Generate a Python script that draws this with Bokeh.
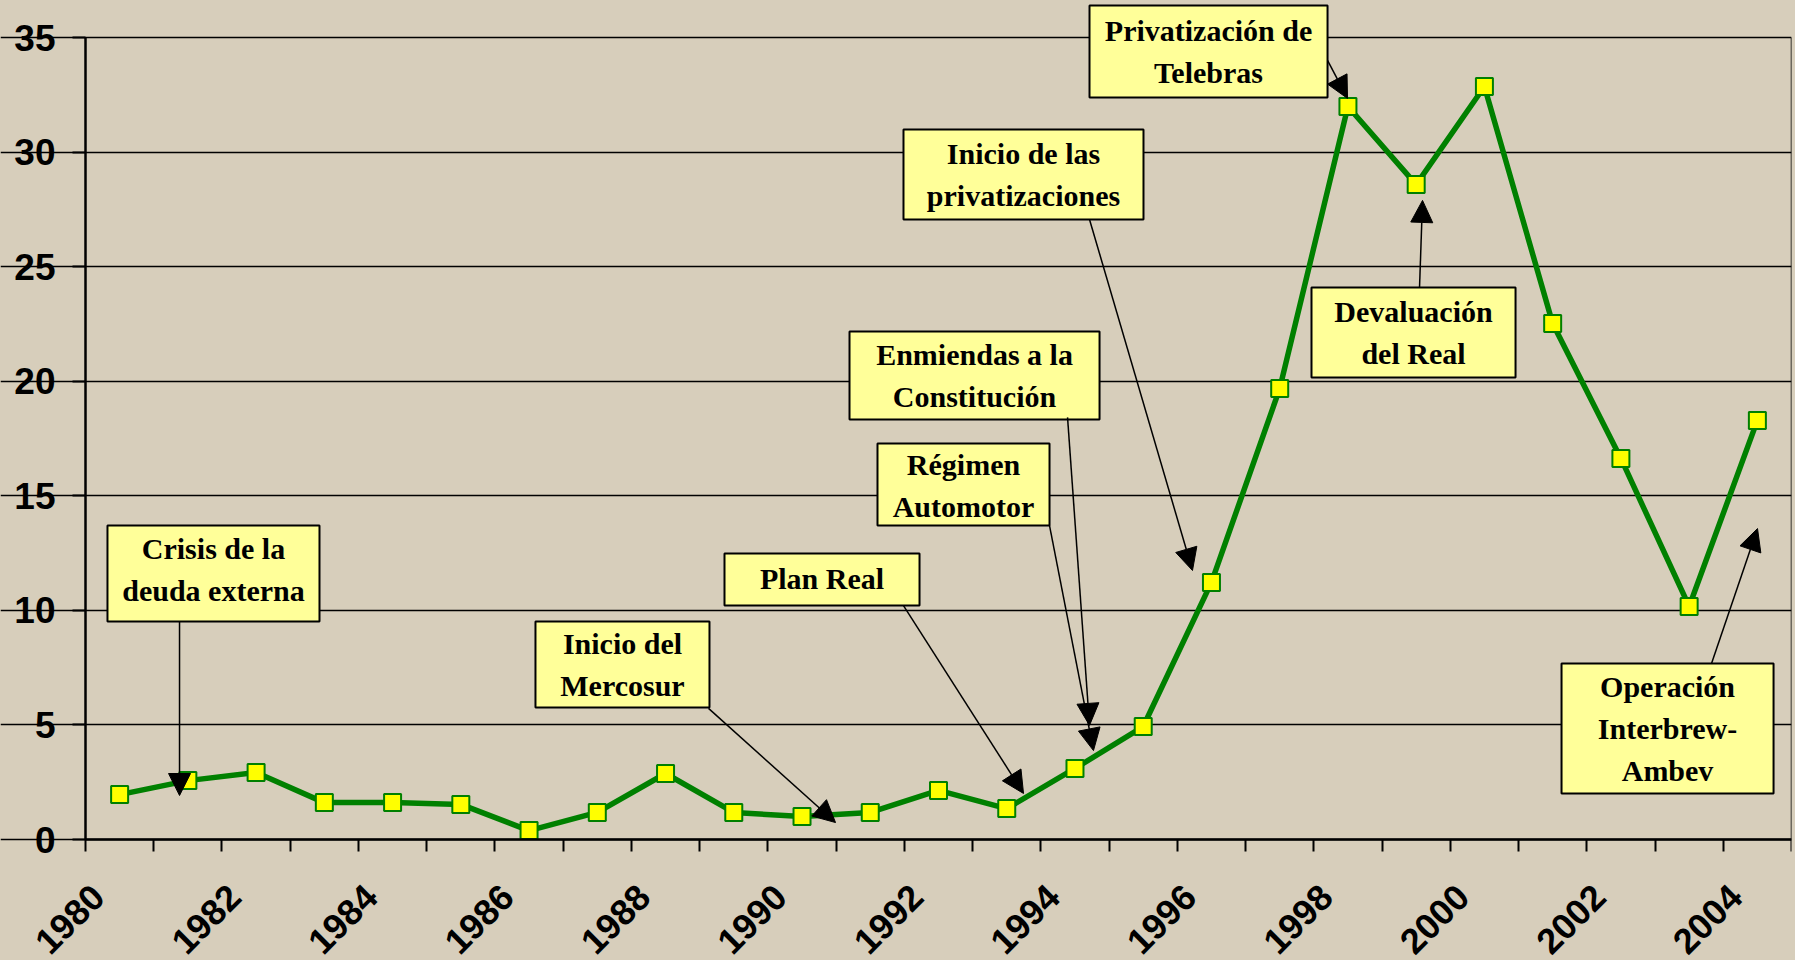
import math
from bokeh.plotting import figure
from bokeh.models import (Range1d, FixedTicker, Label, BoxAnnotation,
                          Arrow, NormalHead, ColumnDataSource, LinearAxis)
from bokeh.embed import file_html
from bokeh.resources import INLINE

# ---------------- data ----------------
years = list(range(1980, 2005))
values = [1.96, 2.57, 2.92, 1.61, 1.61, 1.53, 0.39, 1.18, 2.88, 1.18,
          1.00, 1.18, 2.14, 1.35, 3.10, 4.93, 11.22, 19.68, 31.99, 28.58,
          32.86, 22.52, 16.63, 10.17, 18.29]
x_label_years = [1980, 1982, 1984, 1986, 1988, 1990, 1992, 1994, 1996, 1998, 2000, 2002, 2004]
x_label_texts = ["1980", "1982", "1984", "1986", "1988", "1990", "1992",
                 "1994", "1996", "1998", "2000", "2002", "2004"]
y_ticks = [0, 5, 10, 15, 20, 25, 30, 35]

annotation_texts = [
    "Crisis de la\ndeuda externa",
    "Inicio del\nMercosur",
    "Plan Real",
    "Régimen\nAutomotor",
    "Enmiendas a la\nConstitución",
    "Inicio de las\nprivatizaciones",
    "Privatización de\nTelebras",
    "Devaluación\ndel Real",
    "Operación\nInterbrew-\nAmbev",
]

# ---------------- layout of callouts (data units) ----------------
# box: (left, right, bottom, top); arrow: (x_start, y_start, x_end, y_end)
boxes = [
    (1979.822, 1982.929, 9.51, 13.70),
    (1986.094, 1988.644, 5.76, 9.51),
    (1988.864, 1991.722, 10.21, 12.48),
    (1991.106, 1993.627, 13.70, 17.28),
    (1990.696, 1994.360, 18.33, 22.17),
    (1991.487, 1995.004, 27.06, 30.99),
    (1994.213, 1997.701, 32.38, 36.40),
    (1997.466, 2000.456, 20.16, 24.09),
    (2001.130, 2004.237, 2.01, 7.68),
]
label_nudge = [4, 0, 1, -1, 0, 0, 0, 0, 0]   # small vertical text nudges (px)
arrows = [
    (1980.878, 9.51, 1980.878, 1.92),
    (1988.630, 5.72, 1990.491, 0.74),
    (1991.487, 10.21, 1993.246, 2.01),
    (1993.627, 13.70, 1994.271, 3.88),
    (1993.891, 18.42, 1994.213, 4.98),
    (1994.213, 27.06, 1995.722, 11.74),
    (1997.701, 34.00, 1997.994, 32.34),
    (1999.049, 24.09, 1999.093, 27.89),
    (2003.328, 7.68, 2004.002, 13.57),
]

BG = "#d7cebb"
GREEN = "#008000"

# ---------------- geometry (pixels) ----------------
W, H = 1793, 958
LEFT_PAD, RIGHT_PAD = 85, 2          # room for the y labels / right edge
TOP_PX, ZERO_PX = 37, 839            # pixel rows of the 35 and 0 grid lines
X0, X1 = years[0] - 0.5, years[-1] + 0.5
px_per_cat = (W - LEFT_PAD - RIGHT_PAD) / (X1 - X0)
px_per_unit = (ZERO_PX - TOP_PX) / (y_ticks[-1] - y_ticks[0])
# the plotting frame covers the whole figure so that the callouts and the
# rotated year labels (left of / below the axes) are not clipped
X_VIEW = (X0 - LEFT_PAD / px_per_cat, X1)
Y_VIEW = (-(H - ZERO_PX) / px_per_unit, ZERO_PX / px_per_unit)

p = figure(width=W, height=H, output_backend="svg", toolbar_location=None,
           x_range=Range1d(*X_VIEW), y_range=Range1d(*Y_VIEW),
           min_border_left=0, min_border_right=RIGHT_PAD, min_border_top=0,
           min_border_bottom=0,
           background_fill_color=BG, border_fill_color=BG,
           outline_line_color=None)

# y axis (left), drawn at the first category boundary
yt = FixedTicker(ticks=y_ticks)
p.yaxis.fixed_location = X0
p.yaxis.ticker = yt
p.yaxis.bounds = (y_ticks[0], y_ticks[-1])
p.yaxis.major_label_text_font = "Liberation Sans"
p.yaxis.major_label_text_font_style = "bold"
p.yaxis.major_label_text_font_size = "37px"
p.yaxis.major_label_text_color = "black"
p.yaxis.major_tick_out = 13
p.yaxis.major_tick_in = 0
p.yaxis.major_tick_line_width = 2
p.yaxis.major_tick_line_color = "black"
p.yaxis.minor_tick_line_color = None
p.yaxis.axis_line_width = 2.5
p.yaxis.axis_line_color = "black"
p.yaxis.major_label_standoff = 17

# right border line of the plot area
right_axis = LinearAxis(ticker=FixedTicker(ticks=[]), bounds=(y_ticks[0], y_ticks[-1]),
                        fixed_location=X1, axis_line_color="black",
                        axis_line_width=1.5, major_tick_line_color=None,
                        minor_tick_line_color=None, major_label_text_font_size="0px")
p.add_layout(right_axis, "right")

# x axis at zero: tick marks between categories
boundaries = [y - 0.5 for y in years] + [years[-1] + 0.5]
p.xaxis.fixed_location = 0
p.xaxis.bounds = (X0, X1)
p.xaxis.ticker = FixedTicker(ticks=[], minor_ticks=boundaries)
p.xaxis.minor_tick_out = 12
p.xaxis.minor_tick_in = 0
p.xaxis.minor_tick_line_width = 2
p.xaxis.minor_tick_line_color = "black"
p.xaxis.major_tick_line_color = None
p.xaxis.axis_line_width = 2.5
p.xaxis.axis_line_color = "black"

p.xgrid.visible = False
p.ygrid.ticker = yt
p.ygrid.bounds = (X0, X1)
p.ygrid.grid_line_color = "black"
p.ygrid.grid_line_width = 1.5

# data line
src = ColumnDataSource(dict(x=years, y=values))
p.line("x", "y", source=src, line_color=GREEN, line_width=5.5)
p.scatter("x", "y", source=src, marker="square", size=17,
          fill_color="#ffff00", line_color=GREEN, line_width=2)

# x labels (rotated, every second year)
for xv, txt in zip(x_label_years, x_label_texts):
    p.add_layout(Label(x=xv, y=0, text=txt, angle=math.pi / 4,
                       text_align="right", text_baseline="middle",
                       x_offset=-22, y_offset=-51,
                       text_font="Liberation Sans", text_font_style="bold",
                       text_font_size="36px", text_color="black"))

# callouts
for (l, r, b, t), txt, dy in zip(boxes, annotation_texts, label_nudge):
    p.add_layout(BoxAnnotation(left=l, right=r, bottom=b, top=t,
                               fill_color="#ffff99", fill_alpha=1.0,
                               line_color="black", line_width=2, line_alpha=1.0))
    p.add_layout(Label(x=(l + r) / 2, y=(b + t) / 2, text=txt, y_offset=dy,
                       text_align="center", text_baseline="middle",
                       text_font="Liberation Serif", text_font_style="bold",
                       text_font_size="30px", text_line_height=1.26,
                       text_color="black"))

for (x0, y0, x1, y1) in arrows:
    p.add_layout(Arrow(x_start=x0, y_start=y0, x_end=x1, y_end=y1,
                       line_color="black", line_width=1.5,
                       end=NormalHead(size=22, fill_color="black", line_color="black")))

html = file_html(p, INLINE)
html = html.replace("<head>", "<head><style>html,body{background:%s;}</style>" % BG, 1)
open("out.html", "w").write(html)
